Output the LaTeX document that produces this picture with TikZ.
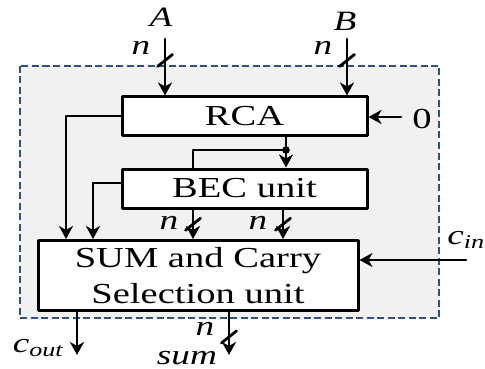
\documentclass[tikz,border=0pt]{standalone}
\usepackage{fontspec}
\setmainfont{Liberation Serif}[FakeStretch=1.33]
\usepackage{xcolor}
\usetikzlibrary{arrows.meta,decorations.markings,calc}
\definecolor{frameblue}{RGB}{47,82,128}
\definecolor{framegray}{RGB}{241,241,241}
\tikzset{
  blk/.style={draw,fill=white,line width=3pt,inner sep=0pt},
  wire/.style={line width=2.9pt,-{Stealth[length=13pt,width=14pt,inset=4pt]}},
  bus/.style={postaction={decorate,decoration={markings,mark=at position #1 with {\draw[-,line width=2.8pt] (6pt,-7.5pt)--(-6pt,7.5pt);}}}},
  lbl/.style={inner sep=0pt,font=\fontsize{28}{36}\selectfont\itshape}
}
\begin{document}
\begin{tikzpicture}[line cap=round,line join=round,x=1pt,y=-1pt,font=\fontsize{29}{36}\selectfont]
                \useasboundingbox (0,0) rectangle (485,369);
                \draw [line width=2.6pt,color=frameblue,fill=framegray,dash pattern=on 7pt off 3.5pt,line cap=butt] (20,66) rectangle (439,318);
                \node [blk,minimum width=245pt,minimum height=38pt] (rca) at (244.5,116) {RCA};
                \node [blk,minimum width=245pt,minimum height=39pt] (bec) at (244.5,188.5) {BEC unit};
                \node [blk,minimum width=320pt,minimum height=70pt,align=center] (sel) at (198,275.5) {SUM and Carry\\Selection unit};
                \coordinate (a) at (165,39);
                \coordinate (b) at (347,39);
                \coordinate (zero) at (401,117);
                \coordinate (cin) at (466,260);
                \coordinate (cout) at (77,355);
                \coordinate (s) at (229,355);
                \coordinate (tap) at (286,150);
                \coordinate (rcal) at (66,0);
                \coordinate (becl) at (93,0);
                \coordinate (e1) at (193,0);
                \coordinate (e2) at (283,0);
                \draw [wire,bus=0.38] (a) -- (a |- rca.north);
                \draw [wire,bus=0.38] (b) -- (b |- rca.north);
                \draw [wire] (zero) -- (zero -| rca.east);
                \draw [wire] (rca.west) -| (rcal |- sel.north);
                \draw [wire] ([yshift=5.5pt]bec.west) -| (becl |- sel.north);
                \draw [wire] (tap |- rca.south) -- (tap |- bec.north);
                \draw [line width=2.9pt] (tap) -| (e1 |- bec.north);
                \fill (tap) circle (3.8pt);
                \draw [wire,bus=0.5] (e1 |- bec.south) -- (e1 |- sel.north);
                \draw [wire,bus=0.5] (e2 |- bec.south) -- (e2 |- sel.north);
                \draw [wire] (cin) -- (cin -| sel.east);
                \draw [wire] (cout |- sel.south) -- (cout);
                \draw [wire,bus=0.58] (s |- sel.south) -- (s);
                \node [lbl] (la) at (161,17) {A};
                \node [lbl] (lb) at (345,21) {B};
                \node [lbl] (na) at (141,48) {n};
                \node [lbl] (nb) at (323,48) {n};
                \node [inner sep=0pt] (lzero) at (422,119) {0};
                \node [lbl] (ne1) at (169,223) {n};
                \node [lbl] (ne2) at (258,223) {n};
                \node [lbl] (lcin) at (466,240) {c\textsubscript{in}};
                \node [lbl] (lcout) at (38,348) {c\textsubscript{out}};
                \node [lbl] (ns) at (205,329) {n};
                \node [lbl] (lsum) at (187,358) {sum};
\end{tikzpicture}
\end{document}
